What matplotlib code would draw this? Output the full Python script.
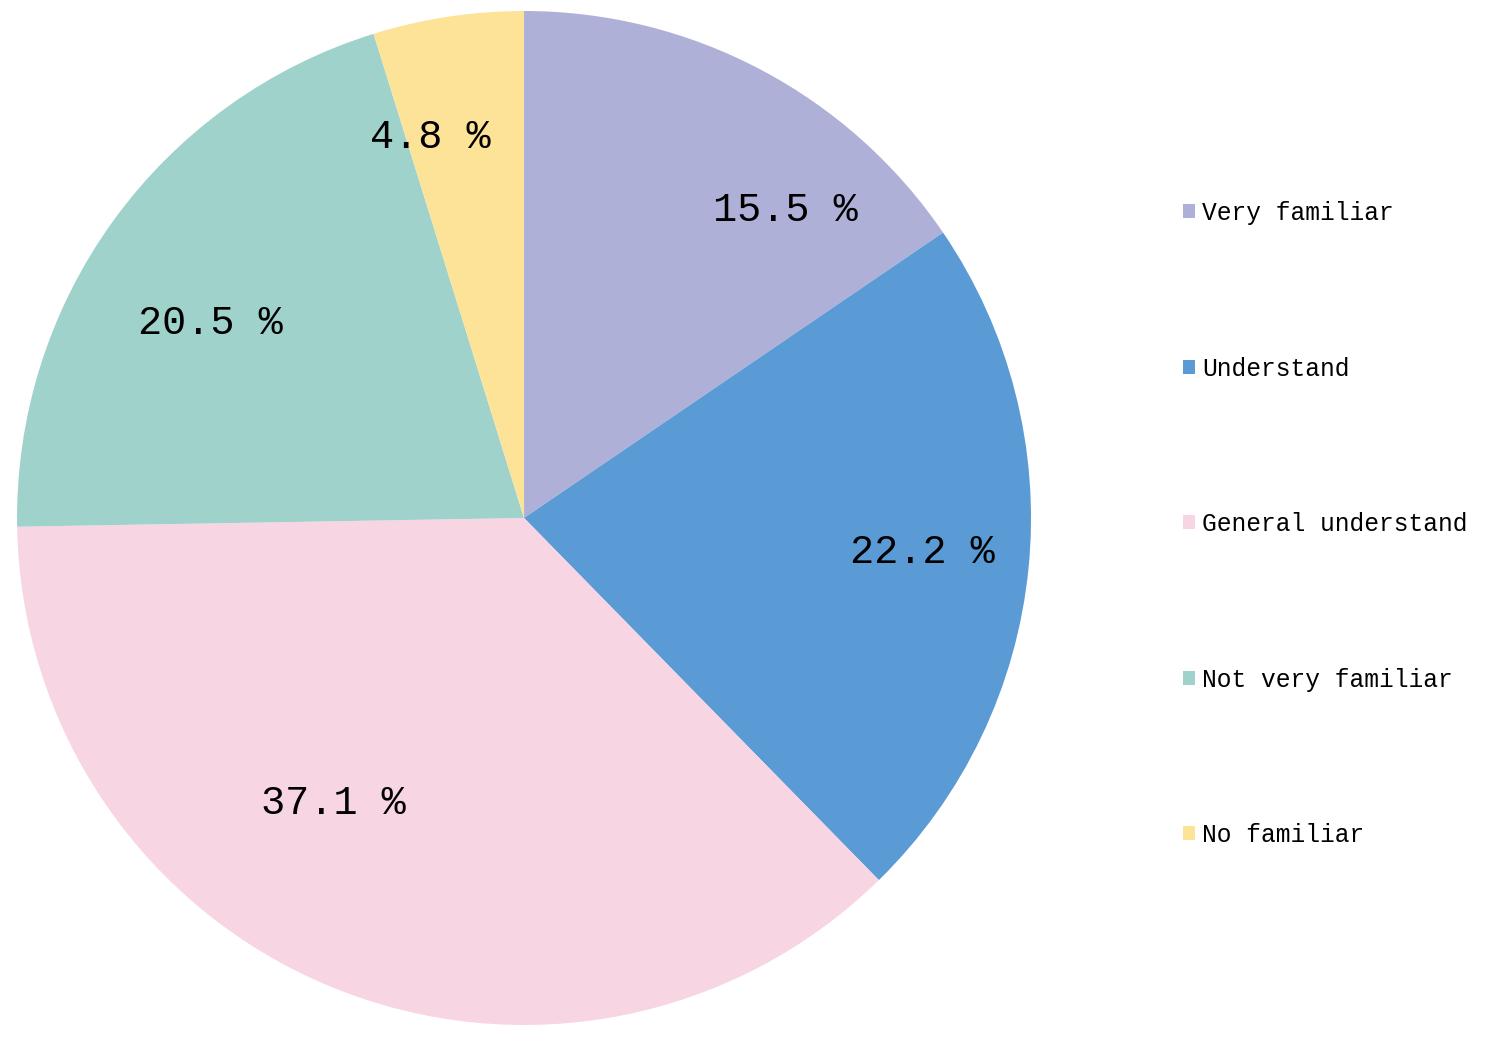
import matplotlib.pyplot as plt

labels = ["Very familiar", "Understand", "General understand", "Not very familiar", "No familiar"]
values = [15.5, 22.2, 37.1, 20.5, 4.8]
colors = ["#AFB0D8", "#5B9BD5", "#F8D5E3", "#A0D2CC", "#FDE398"]
# label spots (fraction of radius)
label_xy = [(0.515, 0.607), (0.785, -0.067), (-0.377, -0.562), (-0.619, 0.385), (-0.185, 0.751)]

fig = plt.figure(figsize=(14.88, 10.46), dpi=100)
ax = fig.add_axes([0.01142, 0.0201, 0.6815, 0.9694])

wedges, texts, autotexts = ax.pie(values, colors=colors, startangle=90, counterclock=False,
                                  autopct=lambda p: "", radius=1)
for t, v, xy in zip(autotexts, values, label_xy):
    t.set_text(f"{v} %")
    t.set_position(xy)
    t.set_fontfamily("Liberation Mono")
    t.set_fontsize(29)
    t.set_color("black")
    t.set_ha("center")
    t.set_va("center")

ax.set_xlim(-1, 1)
ax.set_ylim(-1, 1)
ax.set_aspect("equal")

leg = fig.legend(wedges, labels, loc="upper left", bbox_to_anchor=(0.780, 0.829),
                 frameon=False, prop={"family": "Liberation Mono", "size": 17.7},
                 handlelength=0.5, handleheight=0.5, handletextpad=0.3, labelspacing=5.35)

fig.savefig("out.png", dpi=100)
